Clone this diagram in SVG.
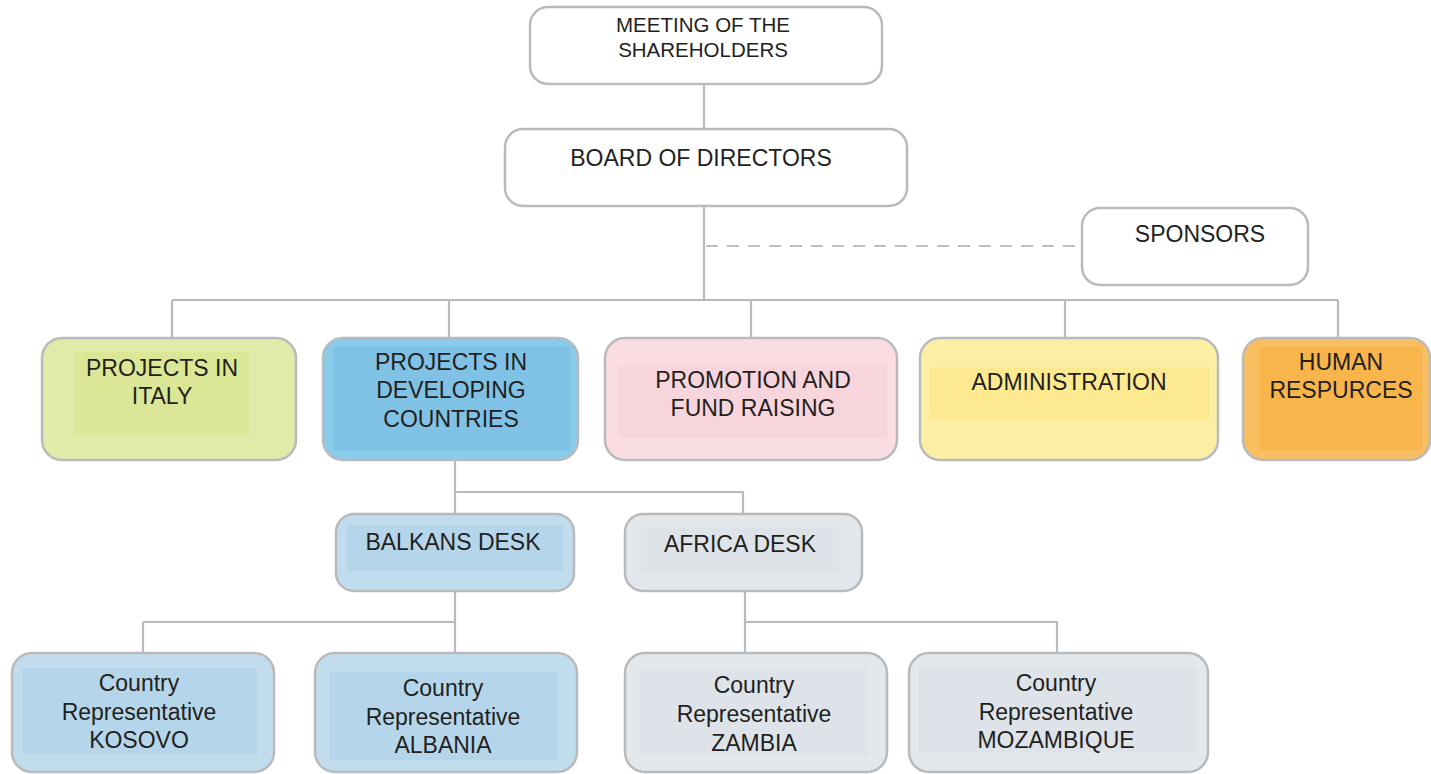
<svg xmlns="http://www.w3.org/2000/svg" width="1431" height="774" viewBox="0 0 1431 774">
<style>
.box{stroke:#b9babd;stroke-width:2.5}
.t{font-family:"Liberation Sans",Arial,sans-serif;font-size:23px;fill:#231f20;text-anchor:middle}
.s{font-size:20.5px}
.ln{stroke:#b9babd;stroke-width:2.2;fill:none}
.dash{stroke:#bfc0c2;stroke-width:2;stroke-dasharray:12 9;fill:none}
</style>
<rect width="1431" height="774" fill="#ffffff"/>
<g id="connectors">
<path class="ln" d="M704 84V129M704 206V300M172 300H1338M172 300V338M449 300V338M751 300V338M1065 300V338M1338 300V338"/>
<path class="dash" d="M706 246H1082"/>
<path class="ln" d="M455 460V514M455 492H743V514"/>
<path class="ln" d="M455 591V653M143 622H455M143 622V653"/>
<path class="ln" d="M745 591V653M745 622H1057V653"/>
</g>
<g id="meeting">
<rect class="box" x="530" y="7" width="352" height="77" rx="18" fill="#ffffff"/>
<text class="t s" x="703" y="32">MEETING OF THE</text>
<text class="t s" x="703" y="57">SHAREHOLDERS</text>
</g>
<g id="board">
<rect class="box" x="505" y="129" width="402" height="77" rx="18" fill="#ffffff"/>
<text class="t" x="701" y="166">BOARD OF DIRECTORS</text>
</g>
<g id="sponsors">
<rect class="box" x="1082" y="208" width="226" height="77" rx="18" fill="#ffffff"/>
<text class="t" x="1200" y="242">SPONSORS</text>
</g>
<g id="italy">
<rect class="box" x="42" y="338" width="254" height="122" rx="20" fill="#e1eaa8"/>
<rect x="75" y="352" width="174" height="83" fill="#dbe797"/>
<text class="t" x="162" y="376">PROJECTS IN</text>
<text class="t" x="162" y="404">ITALY</text>
</g>
<g id="developing">
<rect class="box" x="323" y="338" width="255" height="122" rx="20" fill="#89cbeb"/>
<rect x="333" y="347" width="237" height="103" fill="#7fc2e5"/>
<text class="t" x="451" y="370">PROJECTS IN</text>
<text class="t" x="451" y="398">DEVELOPING</text>
<text class="t" x="451" y="427">COUNTRIES</text>
</g>
<g id="promotion">
<rect class="box" x="605" y="338" width="292" height="122" rx="20" fill="#fadde2"/>
<rect x="619" y="365" width="268" height="73" fill="#f8d5dc"/>
<text class="t" x="753" y="388">PROMOTION AND</text>
<text class="t" x="753" y="416">FUND RAISING</text>
</g>
<g id="administration">
<rect class="box" x="920" y="338" width="298" height="122" rx="20" fill="#fdeea6"/>
<rect x="930" y="367" width="280" height="53" fill="#fde98f"/>
<text class="t" x="1069" y="390">ADMINISTRATION</text>
</g>
<g id="human">
<rect class="box" x="1243" y="338" width="187" height="122" rx="20" fill="#f9be5f"/>
<rect x="1260" y="347" width="162" height="103" fill="#f8b54c"/>
<text class="t" x="1341" y="370">HUMAN</text>
<text class="t" x="1341" y="398">RESPURCES</text>
</g>
<g id="balkans">
<rect class="box" x="336" y="514" width="238" height="77" rx="18" fill="#c1dcec"/>
<rect x="347" y="525" width="216" height="46" fill="#b5d6ea"/>
<text class="t" x="453" y="550">BALKANS DESK</text>
</g>
<g id="africa">
<rect class="box" x="625" y="514" width="237" height="77" rx="18" fill="#e3e8ec"/>
<rect x="641" y="528" width="198" height="46" fill="#dde3e8"/>
<text class="t" x="740" y="552">AFRICA DESK</text>
</g>
<g id="kosovo">
<rect class="box" x="12" y="653" width="262" height="119" rx="20" fill="#c1dcec"/>
<rect x="22" y="668" width="235" height="86" fill="#b5d6ea"/>
<text class="t" x="139" y="691">Country</text>
<text class="t" x="139" y="720">Representative</text>
<text class="t" x="139" y="748">KOSOVO</text>
</g>
<g id="albania">
<rect class="box" x="315" y="653" width="262" height="119" rx="20" fill="#c1dcec"/>
<rect x="330" y="672" width="227" height="88" fill="#b5d6ea"/>
<text class="t" x="443" y="696">Country</text>
<text class="t" x="443" y="725">Representative</text>
<text class="t" x="443" y="753">ALBANIA</text>
</g>
<g id="zambia">
<rect class="box" x="625" y="653" width="262" height="119" rx="20" fill="#e3e8ec"/>
<rect x="640" y="670" width="228" height="86" fill="#dde3e8"/>
<text class="t" x="754" y="693">Country</text>
<text class="t" x="754" y="722">Representative</text>
<text class="t" x="754" y="751">ZAMBIA</text>
</g>
<g id="mozambique">
<rect class="box" x="909" y="653" width="299" height="119" rx="20" fill="#e3e8ec"/>
<rect x="918" y="667" width="279" height="85" fill="#dde3e8"/>
<text class="t" x="1056" y="691">Country</text>
<text class="t" x="1056" y="720">Representative</text>
<text class="t" x="1056" y="748">MOZAMBIQUE</text>
</g>
</svg>
